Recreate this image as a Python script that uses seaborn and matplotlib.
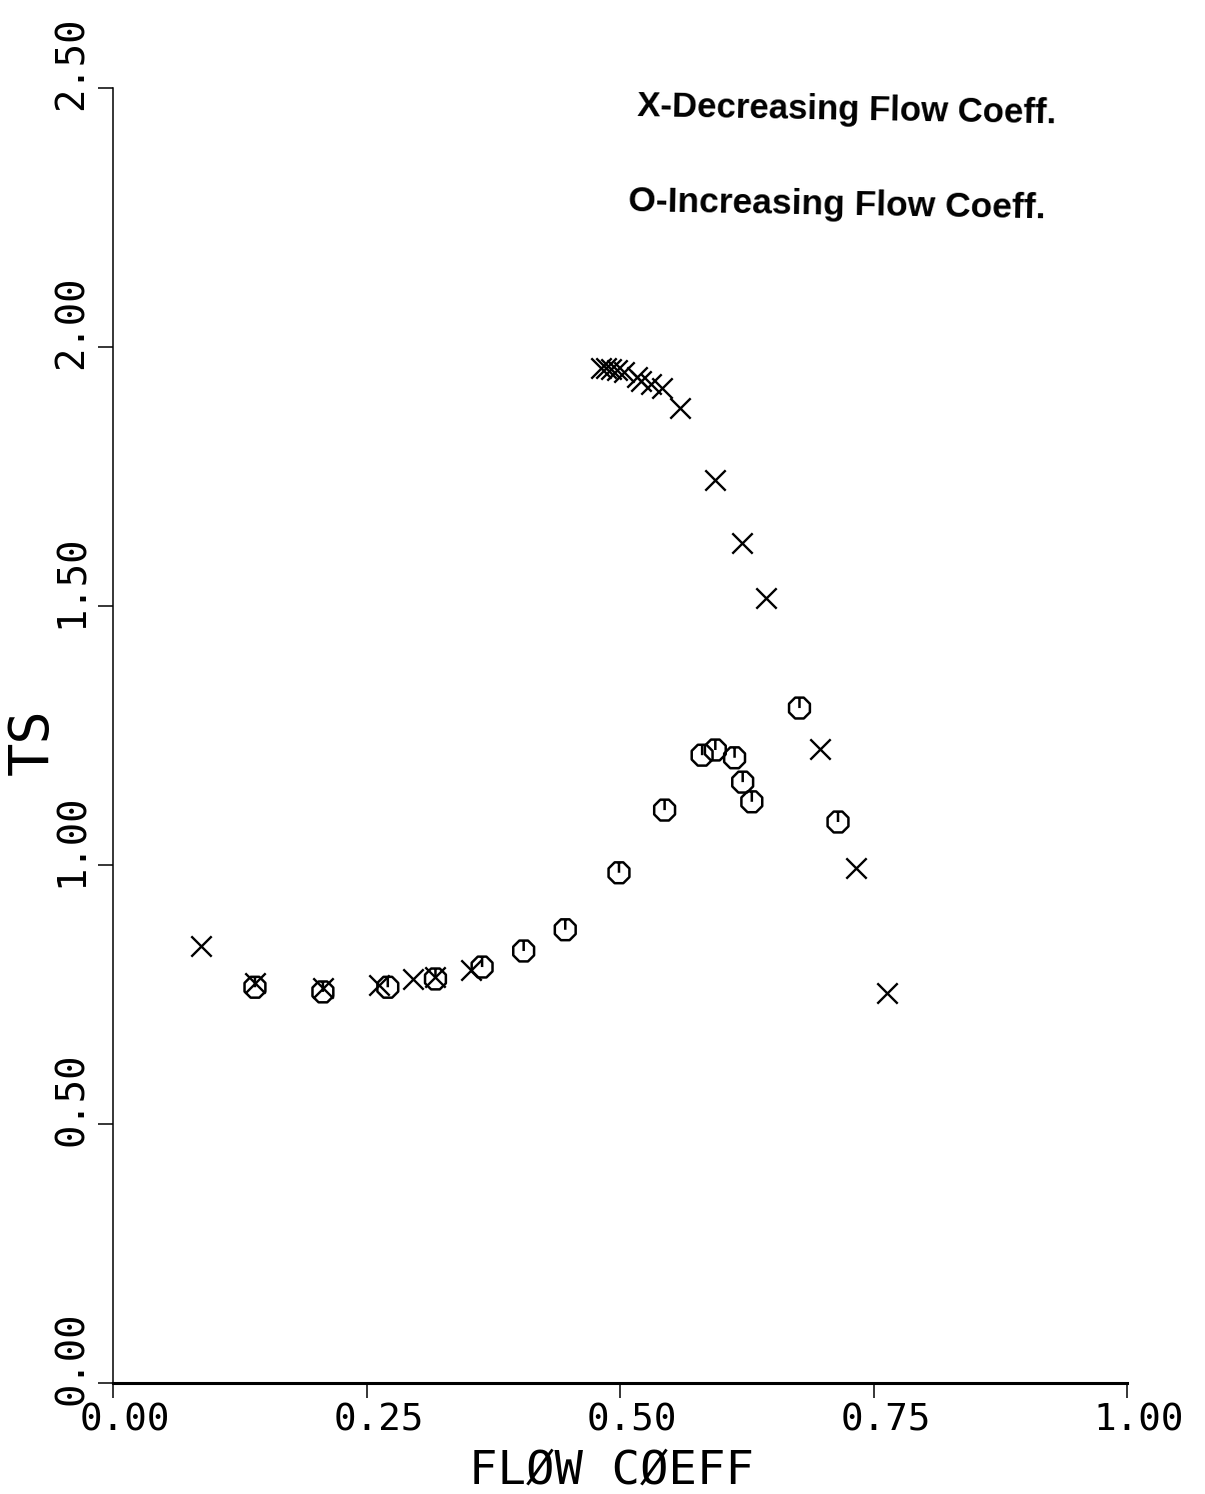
import numpy as np
import pandas as pd
import matplotlib
matplotlib.use("Agg")
import matplotlib.pyplot as plt
from matplotlib.path import Path
from matplotlib.markers import MarkerStyle
from matplotlib.transforms import ScaledTranslation
import seaborn as sns

# Decreasing flow coefficient sweep (X markers)
dec_flow = [0.087, 0.140, 0.207, 0.262, 0.296, 0.318, 0.353,
            0.481, 0.486, 0.491, 0.497, 0.504, 0.517, 0.521, 0.531, 0.541,
            0.559, 0.594, 0.620, 0.644, 0.697, 0.733, 0.763]
dec_ts = [0.844, 0.772, 0.763, 0.768, 0.780, 0.784, 0.797,
          1.959, 1.959, 1.958, 1.956, 1.952, 1.942, 1.934, 1.929, 1.921,
          1.882, 1.743, 1.622, 1.515, 1.224, 0.994, 0.753]

# Increasing flow coefficient sweep (O markers)
inc_flow = [0.140, 0.207, 0.271, 0.318, 0.364, 0.405, 0.446, 0.499,
            0.544, 0.581, 0.594, 0.613, 0.621, 0.630, 0.677, 0.715]
inc_ts = [0.764, 0.755, 0.764, 0.780, 0.803, 0.834, 0.875, 0.985,
          1.106, 1.212, 1.222, 1.207, 1.160, 1.122, 1.303, 1.083]

x_ticks = [0.0, 0.25, 0.50, 0.75, 1.00]
x_tick_labels = ["0.00", "0.25", "0.50", "0.75", "1.00"]
y_ticks = [0.0, 0.5, 1.0, 1.5, 2.0, 2.5]
y_tick_labels = ["0.00", "0.50", "1.00", "1.50", "2.00", "2.50"]

x_title = "FLØW CØEFF"
y_title = "TS"
legend_lines = ["X-Decreasing Flow Coeff.", "O-Increasing Flow Coeff."]

sns.set_theme(style="ticks")
plt.rcParams["font.family"] = ["DejaVu Sans Mono", "DejaVu Sans"]
plt.rcParams["axes.edgecolor"] = "black"

fig = plt.figure(figsize=(12.05, 14.94), dpi=100)
fig.patch.set_facecolor("white")
ax = fig.add_axes([113 / 1205, 111 / 1494, 1014 / 1205, 1295 / 1494])
ax.set_facecolor("white")

# pen-plotter style circle: octagon with a short stroke from the top to the centre
ang = np.pi / 8 + np.arange(8) * np.pi / 4
verts = [(np.cos(a), np.sin(a)) for a in ang] + [(np.cos(ang[0]), np.sin(ang[0]))]
codes = [Path.MOVETO] + [Path.LINETO] * 7 + [Path.CLOSEPOLY]
verts += [(0.0, np.sin(3 * np.pi / 8)), (0.0, 0.0)]
codes += [Path.MOVETO, Path.LINETO]
pen_circle = MarkerStyle(Path(verts, codes), fillstyle="none")

df_dec = pd.DataFrame({"flow": dec_flow, "ts": dec_ts})
df_inc = pd.DataFrame({"flow": inc_flow, "ts": inc_ts})

sns.scatterplot(data=df_inc, x="flow", y="ts", ax=ax, marker=pen_circle,
                color="black", s=225, linewidth=1.8)
sns.scatterplot(data=df_dec, x="flow", y="ts", ax=ax, marker="x",
                color="black", s=215, linewidth=1.7)

ax.set_xlim(0, 1.0)
ax.set_ylim(0, 2.5)

ax.spines["top"].set_visible(False)
ax.spines["right"].set_visible(False)
ax.spines["bottom"].set_linewidth(2.2)
ax.spines["left"].set_linewidth(1.1)

ax.set_xticks(x_ticks)
ax.set_xticklabels(x_tick_labels)
ax.set_yticks(y_ticks)
ax.set_yticklabels(y_tick_labels, rotation=90, va="center")

ax.tick_params(axis="x", direction="out", length=11, width=1.1, pad=3,
               labelsize=27, colors="black")
ax.tick_params(axis="y", direction="out", length=11, width=1.1, pad=5,
               labelsize=28, colors="black")

# shift tick labels the way the plotter placed them
for lab in ax.get_yticklabels():
    lab.set_transform(lab.get_transform() +
                      ScaledTranslation(0, 0.25, fig.dpi_scale_trans))
for lab in ax.get_xticklabels():
    lab.set_transform(lab.get_transform() +
                      ScaledTranslation(0.12, 0, fig.dpi_scale_trans))

ax.set_xlabel(x_title, fontsize=34, color="black", va="baseline")
ax.xaxis.set_label_coords(0.492, (1383 - 1484) / 1295)
ax.set_ylabel(y_title, fontsize=40, color="black", va="center")
ax.yaxis.set_label_coords(-0.079, 0.495)

fig.text(637 / 1205, 1 - 116 / 1494, legend_lines[0], family="Liberation Sans",
         fontweight="bold", fontsize=25, ha="left", va="baseline",
         rotation=-1.0, rotation_mode="anchor", color="black")
fig.text(628 / 1205, 1 - 211 / 1494, legend_lines[1], family="Liberation Sans",
         fontweight="bold", fontsize=25.5, ha="left", va="baseline",
         rotation=-1.0, rotation_mode="anchor", color="black")

fig.savefig("out.png", dpi=100, facecolor="white")
